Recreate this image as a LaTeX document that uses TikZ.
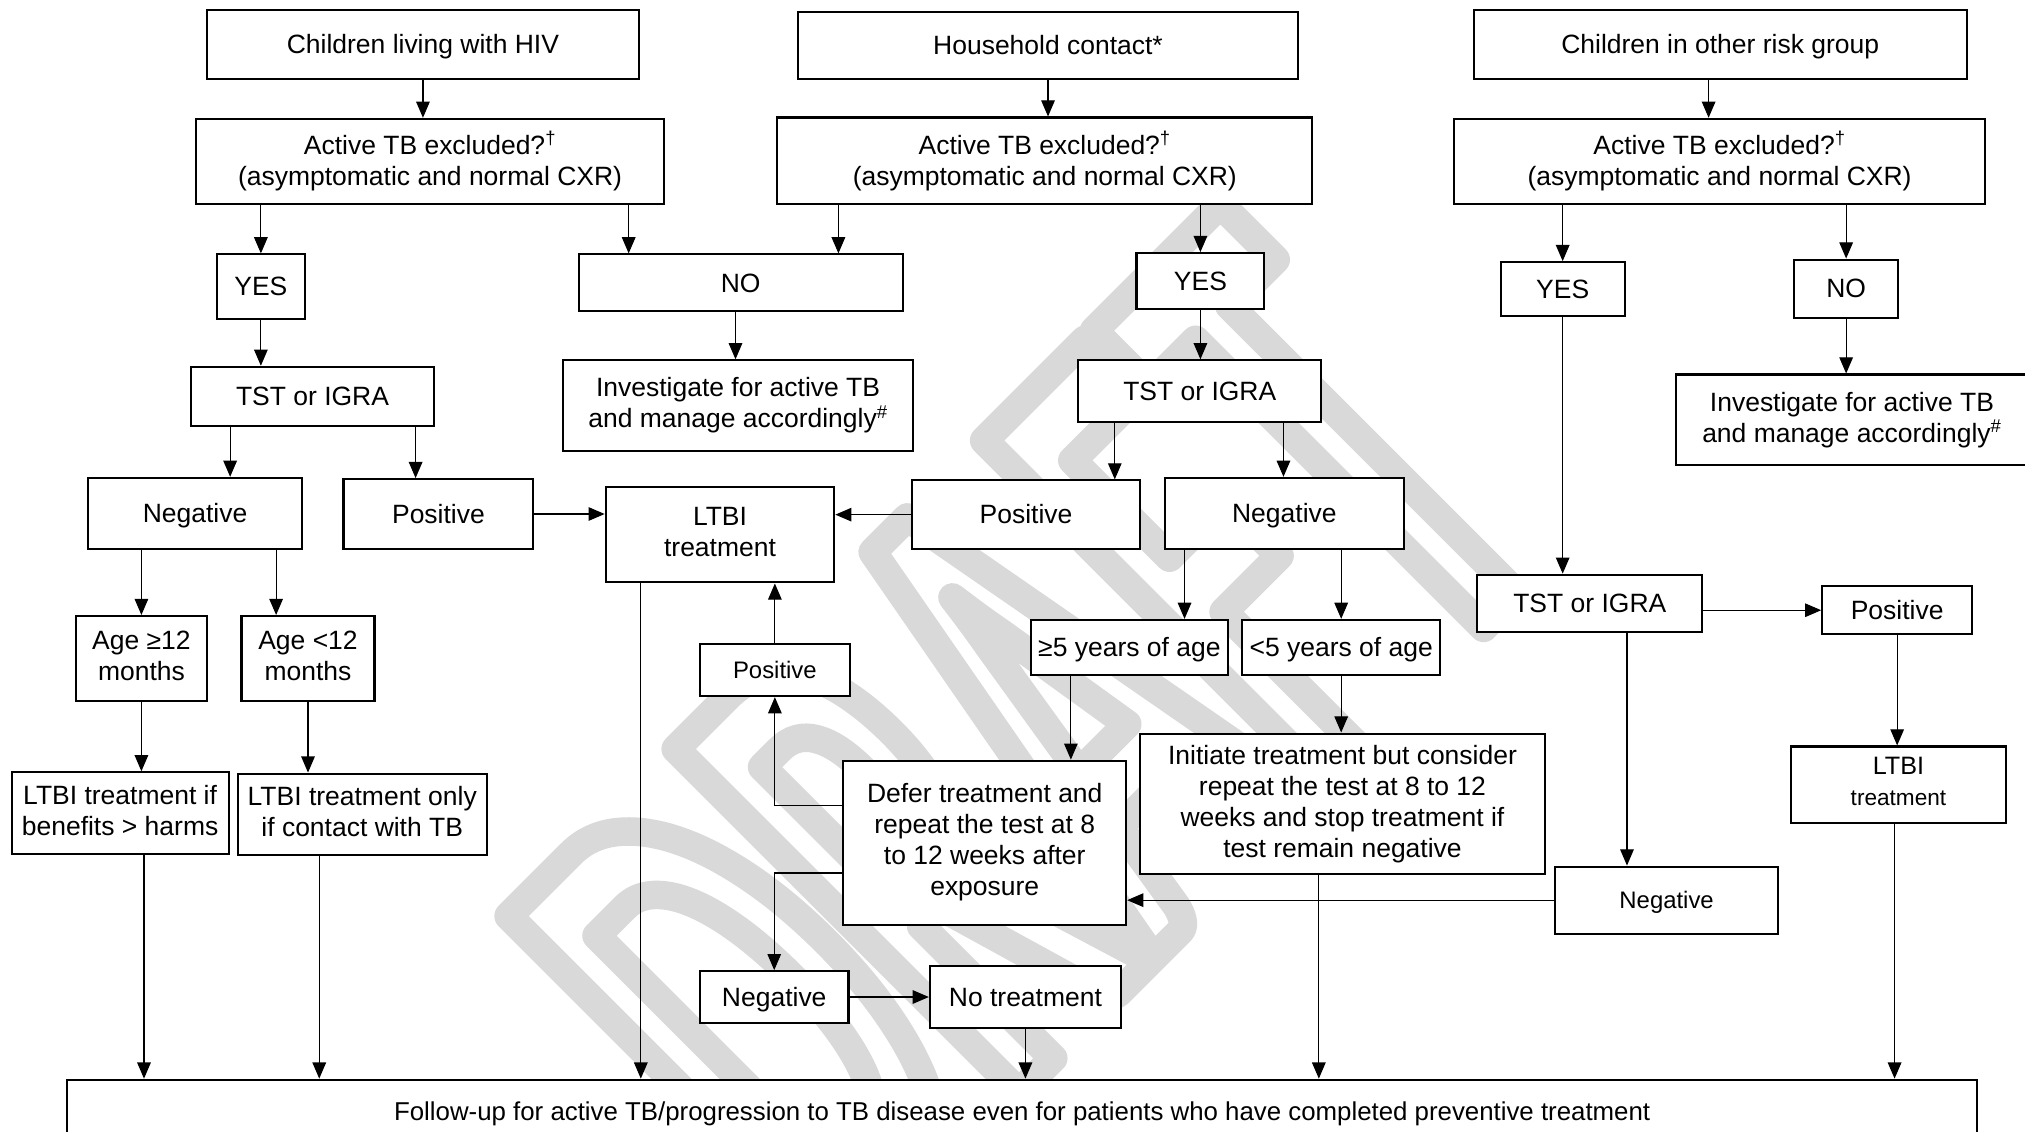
\documentclass[tikz,border=0pt]{standalone}
\usepackage{fontspec}
\setmainfont{Liberation Sans}
\newfontfamily\wmfont{Carlito}[FakeStretch=0.5]
\usetikzlibrary{arrows.meta}
\definecolor{wmgray}{gray}{0.85}

% line strut with the ascent and descent of the text face
\newcommand\lnstrut{\rule[-0.212em]{0pt}{1.117em}}
% box: centre x, centre y, width, height, name, text
\newcommand\flowbox[7][]{\node[box,#1,minimum width=#4pt,minimum height=#5pt] (#6) at (#2,#3) {#7};}

\begin{document}
\begin{tikzpicture}[x=1pt,y=-1pt,
  box/.style={draw, fill=white, line width=1.6pt, inner sep=0pt, align=center,
              font={\fontsize{20.5}{24}\selectfont},
              execute at begin node=\lnstrut, execute at end node=\lnstrut},
  sm/.style={font={\fontsize{18.5}{21}\selectfont}},
  arr/.style={-{Triangle[length=12.5pt,width=10.5pt]}, line width=0.9pt}]

\useasboundingbox[fill=white] (0,0) rectangle (1568,876);

% outlined watermark lettering on the diagonal
\node[rotate=45, anchor=base west, inner sep=0pt, text=wmgray,
      font={\wmfont\bfseries\fontsize{580}{580}\selectfont}] (wm) at (648,987)
  {\special{pdf:literal direct 1 Tr 22 w 1 j 1 J 0.85 G}DRAFT\special{pdf:literal direct 0 Tr}};

% ---- children living with HIV
\flowbox{327.5}{34.5}{335}{53}{hiv}{Children living with HIV}
\flowbox{333}{125}{362}{66}{hivq}{Active TB excluded?\textsuperscript{†}\\(asymptomatic and normal CXR)}
\flowbox{202}{222}{68}{50}{hyes}{YES}
\flowbox{242}{307}{188}{46}{htst}{TST or IGRA}
\flowbox{151}{397.5}{166}{55}{hneg}{Negative}
\flowbox{339.5}{398}{147}{54}{hpos}{Positive}
\flowbox{109.5}{510}{101}{66}{hage1}{Age ≥12\\months}
\flowbox{238.5}{510}{103}{66}{hage2}{Age <12\\months}
\flowbox{93}{629.5}{168}{63}{hrec1}{LTBI treatment if\\benefits > harms}
\flowbox{280.5}{630.5}{193}{63}{hrec2}{LTBI treatment only\\if contact with TB}

% ---- household contact
\flowbox{811.5}{35}{387}{52}{hh}{Household contact*}
\flowbox{809}{124.5}{414}{67}{hhq}{Active TB excluded?\textsuperscript{†}\\(asymptomatic and normal CXR)}
\flowbox{573.5}{219}{251}{44}{no1}{NO}
\flowbox{571.5}{314}{271}{70}{inv1}{Investigate for active TB\\and manage accordingly\textsuperscript{\#}}
\flowbox{929.5}{217.5}{99}{43}{hhyes}{YES}
\flowbox{929}{303}{188}{48}{hhtst}{TST or IGRA}
\flowbox{794.5}{398.5}{177}{53}{hhpos}{Positive}
\flowbox{994.5}{397.5}{185}{55}{hhneg}{Negative}
\flowbox{557.5}{414}{177}{74}{ltbi}{LTBI\\treatment}
\flowbox{874.5}{501.5}{153}{43}{age5a}{≥5 years of age}
\flowbox{1038.5}{501.5}{153}{43}{age5b}{<5 years of age}
\flowbox[sm]{600}{519}{116}{40}{pos2}{Positive}
\flowbox{762.5}{652.5}{219}{127}{defer}{Defer treatment and\\repeat the test at 8\\to 12 weeks after\\exposure}
\flowbox{1039.5}{622.5}{313}{109}{init}{Initiate treatment but consider\\repeat the test at 8 to 12\\weeks and stop treatment if\\test remain negative}
\flowbox{599.5}{772}{115}{40}{neg2}{Negative}
\flowbox{794}{772}{148}{48}{notr}{No treatment}

% ---- children in other risk group
\flowbox{1332}{34.5}{382}{53}{oth}{Children in other risk group}
\flowbox{1331.5}{125}{411}{66}{othq}{Active TB excluded?\textsuperscript{†}\\(asymptomatic and normal CXR)}
\flowbox{1210}{224}{96}{42}{oyes}{YES}
\flowbox{1429.5}{223.5}{81}{45}{ono}{NO}
\flowbox{1434}{325}{272}{70}{inv2}{Investigate for active TB\\and manage accordingly\textsuperscript{\#}}
\flowbox{1231}{467}{174}{44}{otst}{TST or IGRA}
\flowbox{1469}{472.5}{116}{37}{opos}{Positive}
\flowbox{1470}{607.5}{166}{59}{oltbi}{{\fontsize{19.5}{21}\selectfont LTBI}\\{\fontsize{17.5}{21}\selectfont treatment}}
\flowbox[sm]{1290.5}{697}{173}{52}{oneg}{Negative}

% ---- common follow-up
\flowbox[font={\fontsize{20}{24}\selectfont}]{791.5}{861}{1479}{50}{follow}{Follow-up for active TB/progression to TB disease even for patients who have completed preventive treatment}

% connectors: HIV branch
\draw[arr] (hiv.south) -- (hiv.south |- hivq.north);
\draw[arr] (hyes.north |- hivq.south) -- (hyes.north);
\draw[arr] ([xshift=-28pt]hivq.south east) -- ([xshift=-28pt]hivq.south east |- no1.north);
\draw[arr] (hyes.south) -- (hyes.south |- htst.north);
\draw[arr] ([xshift=31pt]htst.south west) -- ([xshift=31pt]htst.south west |- hneg.north);
\draw[arr] ([xshift=-15pt]htst.south east) -- ([xshift=-15pt]htst.south east |- hpos.north);
\draw[arr] (hpos.east) -- (hpos.east -| ltbi.west);
\draw[arr] (hage1.north |- hneg.south) -- (hage1.north);
\draw[arr] ([xshift=-21pt]hneg.south east) -- ([xshift=-21pt]hneg.south east |- hage2.north);
\draw[arr] (hage1.south) -- (hage1.south |- hrec1.north);
\draw[arr] (hage2.south) -- (hage2.south |- hrec2.north);
\draw[arr] ([xshift=2pt]hage1.south |- hrec1.south) -- ([xshift=2pt]hage1.south |- follow.north);
\draw[arr] ([xshift=64pt]hrec2.south west) -- ([xshift=64pt]hrec2.south west |- follow.north);
\draw[arr] ([xshift=28pt]ltbi.south west) -- ([xshift=28pt]ltbi.south west |- follow.north);

% connectors: household branch
\draw[arr] (hh.south) -- (hh.south |- hhq.north);
\draw[arr] ([xshift=48pt]hhq.south west) -- ([xshift=48pt]hhq.south west |- no1.north);
\draw[arr] (hhyes.north |- hhq.south) -- (hhyes.north);
\draw[arr] ([xshift=-2pt]inv1.north |- no1.south) -- ([xshift=-2pt]inv1.north);
\draw[arr] (hhyes.south) -- (hhyes.south |- hhtst.north);
\draw[arr] ([xshift=29pt]hhtst.south west) -- ([xshift=29pt]hhtst.south west |- hhpos.north);
\draw[arr] ([xshift=-30pt]hhtst.south east) -- ([xshift=-30pt]hhtst.south east |- hhneg.north);
\draw[arr] (hhpos.west) -- (hhpos.west -| ltbi.east);
\draw[arr] ([xshift=16pt]hhneg.south west) -- ([xshift=16pt]hhneg.south west |- age5a.north);
\draw[arr] (age5b.north |- hhneg.south) -- (age5b.north);
\draw[arr] ([xshift=32pt]age5a.south west) -- ([xshift=32pt]age5a.south west |- defer.north);
\draw[arr] (age5b.south) -- (age5b.south |- init.north);
\draw[arr] ([xshift=139pt]init.south west) -- ([xshift=139pt]init.south west |- follow.north);
\draw[arr] ([yshift=28.5pt]defer.west) -| (pos2.south);
\draw[arr] (pos2.north) -- (pos2.north |- ltbi.south);
\draw[arr] ([yshift=-23.5pt]defer.west) -| (neg2.north);
\draw[arr] (neg2.east) -- (notr.west);
\draw[arr] (notr.south) -- (notr.south |- follow.north);

% connectors: other risk group branch
\draw[arr] ([xshift=-9pt]oth.south) -- ([xshift=-9pt]oth.south |- othq.north);
\draw[arr] (oyes.north |- othq.south) -- (oyes.north);
\draw[arr] (ono.north |- othq.south) -- (ono.north);
\draw[arr] (ono.south) -- (ono.south |- inv2.north);
\draw[arr] (oyes.south) -- (oyes.south |- otst.north);
\draw[arr] (opos.west -| otst.east) -- (opos.west);
\draw[arr] (opos.south) -- (opos.south |- oltbi.north);
\draw[arr] ([xshift=-59pt]otst.south east) -- ([xshift=-59pt]otst.south east |- oneg.north);
\draw[arr] (oneg.west) -- (oneg.west -| defer.east);
\draw[arr] ([xshift=-3pt]oltbi.south) -- ([xshift=-3pt]oltbi.south |- follow.north);
\end{tikzpicture}
\end{document}
